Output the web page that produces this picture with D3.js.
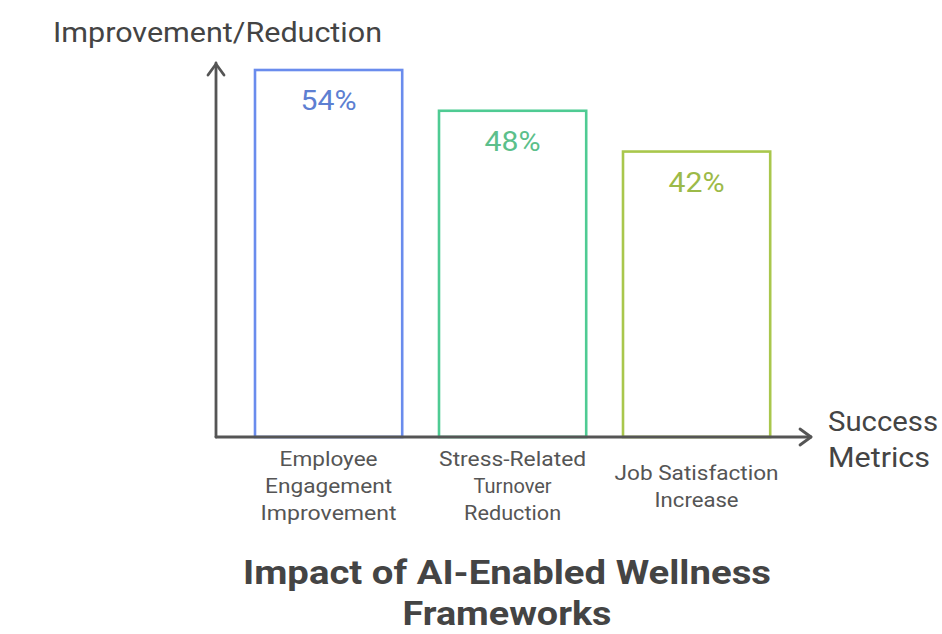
<!DOCTYPE html>
<html>
<head>
<meta charset="utf-8">
<script src="https://cdn.jsdelivr.net/npm/d3@7/dist/d3.min.js"></script>
<style>
  html, body { margin: 0; padding: 0; background: #ffffff; }
  svg { display: block; font-family: Roboto, "Noto Sans", sans-serif; }
</style>
</head>
<body>
<svg id="chart" width="942" height="634"></svg>
<script>
// Success metrics and their improvement/reduction percentages
const categories = [
  ["Employee", "Engagement", "Improvement"],
  ["Stress-Related", "Turnover", "Reduction"],
  ["Job Satisfaction", "Increase"]
];
const values = [54, 48, 42];
const valueLabels = ["54%", "48%", "42%"];
const strokeColors = ["#6a8ced", "#4fcb93", "#a9c74c"];
const labelColors = ["#5d7fd2", "#5cbf8b", "#9cba48"];

// Rendered widths for each label line (wide typesetting)
const categoryWidths = [[98, 127, 136], [147, 78, 97], [164, 84]];
const valueWidth = 56;

const svg = d3.select("#chart");

const originX = 216, originY = 437;

const x = d3.scaleBand()
  .domain(d3.range(values.length))
  .range([236.6, 788.6])
  .paddingInner(0.2)
  .paddingOuter(0.1);

const y = d3.scaleLinear()
  .domain([0, 54])
  .range([originY, 70]);

// Bars (outlined)
svg.append("g").selectAll("rect")
  .data(values)
  .join("rect")
  .attr("x", (d, i) => x(i))
  .attr("y", d => y(d))
  .attr("width", x.bandwidth())
  .attr("height", d => y(0) - y(d))
  .attr("fill", "#ffffff")
  .attr("stroke", (d, i) => strokeColors[i])
  .attr("stroke-width", 2.6);

// Value labels inside bars
svg.append("g").selectAll("text")
  .data(values)
  .join("text")
  .attr("x", (d, i) => x(i) + x.bandwidth() / 2)
  .attr("y", d => y(d) + 40)
  .attr("text-anchor", "middle")
  .attr("font-size", 28)
  .attr("textLength", valueWidth)
  .attr("lengthAdjust", "spacingAndGlyphs")
  .attr("fill", (d, i) => labelColors[i])
  .text((d, i) => valueLabels[i]);

// Axes with open arrowheads
const axisColor = "#555555";
const axes = svg.append("g")
  .attr("stroke", axisColor)
  .attr("stroke-width", 2.8)
  .attr("fill", "none")
  .attr("stroke-linecap", "round")
  .attr("stroke-linejoin", "round");

axes.append("path").attr("d", `M${originX},${originY} V63`);
axes.append("path").attr("d", `M${originX - 8},${75} L${originX},${64} L${originX + 8},${75}`);
axes.append("path").attr("d", `M${originX},${originY} H811`);
axes.append("path").attr("d", `M${800},${originY - 8} L${811},${originY} L${800},${originY + 8}`);

// Category labels under the x axis
const catG = svg.append("g")
  .attr("font-size", 20)
  .attr("fill", "#555555")
  .attr("text-anchor", "middle");
const lineH = 27;
categories.forEach((lines, i) => {
  const cx = x(i) + x.bandwidth() / 2;
  const first = 493 - (lines.length - 1) * lineH / 2;
  lines.forEach((ln, j) => {
    catG.append("text")
      .attr("x", cx)
      .attr("y", first + j * lineH)
      .attr("textLength", categoryWidths[i][j])
      .attr("lengthAdjust", "spacingAndGlyphs")
      .text(ln);
  });
});

// Axis titles
svg.append("text")
  .attr("x", 53)
  .attr("y", 42)
  .attr("font-size", 27)
  .attr("textLength", 329)
  .attr("lengthAdjust", "spacingAndGlyphs")
  .attr("fill", "#444444")
  .text("Improvement/Reduction");

svg.append("text")
  .attr("x", 828).attr("y", 431)
  .attr("font-size", 28)
  .attr("textLength", 110)
  .attr("lengthAdjust", "spacingAndGlyphs")
  .attr("fill", "#444444")
  .text("Success");
svg.append("text")
  .attr("x", 828).attr("y", 467)
  .attr("font-size", 28)
  .attr("textLength", 102)
  .attr("lengthAdjust", "spacingAndGlyphs")
  .attr("fill", "#444444")
  .text("Metrics");

// Chart title
svg.append("text")
  .attr("x", 507).attr("y", 584)
  .attr("text-anchor", "middle")
  .attr("font-size", 34)
  .attr("font-weight", "bold")
  .attr("textLength", 528)
  .attr("lengthAdjust", "spacingAndGlyphs")
  .attr("fill", "#444444")
  .text("Impact of AI-Enabled Wellness");
svg.append("text")
  .attr("x", 507).attr("y", 625)
  .attr("text-anchor", "middle")
  .attr("font-size", 34)
  .attr("font-weight", "bold")
  .attr("textLength", 209)
  .attr("lengthAdjust", "spacingAndGlyphs")
  .attr("fill", "#444444")
  .text("Frameworks");
</script>
</body>
</html>
